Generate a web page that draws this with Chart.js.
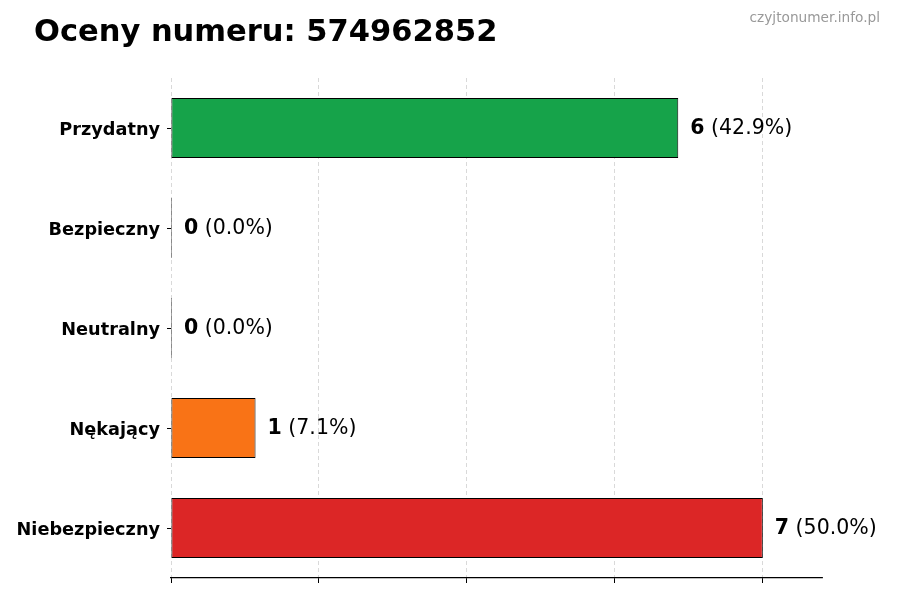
<!DOCTYPE html>
<html>
<head>
<meta charset="utf-8">
<script src="https://cdn.jsdelivr.net/npm/chart.js@4/dist/chart.umd.min.js"></script>
<style>
  html, body { margin: 0; padding: 0; background: #fff; }
  canvas { display: block; }
</style>
</head>
<body>
<canvas id="ratingChart" width="900" height="600"></canvas>
<script>
const CATEGORIES = ["Przydatny", "Bezpieczny", "Neutralny", "Nękający", "Niebezpieczny"];
const COUNTS = [6, 0, 0, 1, 7];
const BAR_COLORS = ["#16a34a", "#3b82f6", "#9ca3af", "#f97316", "#dc2626"];
const X_TICKS = [0, 1.75, 3.5, 5.25, 7];
const X_MAX = 7.7;
const TITLE = "Oceny numeru: 574962852";
const WATERMARK = "czyjtonumer.info.pl";

const FONT = "'DejaVu Sans', sans-serif";

/**
 * Tytuł i znak wodny
 */
const headerPlugin = {
  id: "header",
  afterDraw(chart) {
    const ctx = chart.ctx;
    ctx.save();
    ctx.textBaseline = "alphabetic";
    ctx.textAlign = "left";
    ctx.fillStyle = "#000";
    ctx.font = `bold 30.5px ${FONT}`;
    ctx.fillText(TITLE, 34, 41);

    ctx.textAlign = "right";
    ctx.fillStyle = "#999";
    ctx.font = `13.7px ${FONT}`;
    ctx.fillText(WATERMARK, 880, 22);
    ctx.restore();
  }
};

/**
 * Etykiety wartości przy słupkach
 */
const valueLabels = {
  id: "valueLabels",
  afterDatasetsDraw(chart) {
    const ctx = chart.ctx;
    const data = chart.data.datasets[0].data;
    const total = data.reduce((a, b) => a + b, 0);
    const meta = chart.getDatasetMeta(0);
    ctx.save();
    ctx.textBaseline = "middle";
    ctx.textAlign = "left";
    ctx.fillStyle = "#000";
    meta.data.forEach((bar, i) => {
      const v = data[i];
      const pct = total ? (v / total * 100).toFixed(1) : "0.0";
      let x = bar.x + 12;
      const y = bar.y + 1;
      ctx.font = `bold 20.5px ${FONT}`;
      ctx.fillText(String(v), x, y);
      x += ctx.measureText(String(v)).width;
      ctx.font = `20.5px ${FONT}`;
      ctx.fillText(` (${pct}%)`, x, y);
    });
    ctx.restore();
  }
};

const ctx = document.getElementById("ratingChart").getContext("2d");

new Chart(ctx, {
  type: "bar",
  data: {
    labels: CATEGORIES,
    datasets: [{
      data: COUNTS,
      backgroundColor: BAR_COLORS,
      borderColor: "#000",
      borderWidth: 1,
      borderSkipped: false,
      minBarLength: 1,
      barPercentage: 0.6,
      categoryPercentage: 1.0
    }]
  },
  options: {
    indexAxis: "y",
    responsive: false,
    animation: false,
    layout: { padding: { top: 78, right: 78, bottom: 0, left: 0 } },
    plugins: {
      legend: { display: false },
      tooltip: { enabled: false }
    },
    scales: {
      x: {
        min: 0,
        max: X_MAX,
        afterBuildTicks: scale => {
          scale.ticks = X_TICKS.map(v => ({ value: v }));
        },
        afterFit: scale => { scale.height = 22; },
        ticks: { display: false },
        grid: {
          color: "#cfcfcf",
          lineWidth: 0.8,
          tickColor: "#000",
          tickLength: 5,
          tickBorderDash: [],
          tickWidth: 1
        },
        border: { display: true, color: "#000", width: 1.2, dash: [4, 3] }
      },
      y: {
        afterFit: scale => { scale.width = 171; },
        ticks: {
          color: "#000",
          padding: 7,
          labelOffset: 2,
          font: { family: FONT, size: 17.7, weight: "bold" }
        },
        grid: {
          offset: false,
          drawOnChartArea: false,
          tickColor: "#000",
          tickLength: 4,
          tickWidth: 1
        },
        border: { display: false }
      }
    }
  },
  plugins: [headerPlugin, valueLabels]
});
</script>
</body>
</html>
